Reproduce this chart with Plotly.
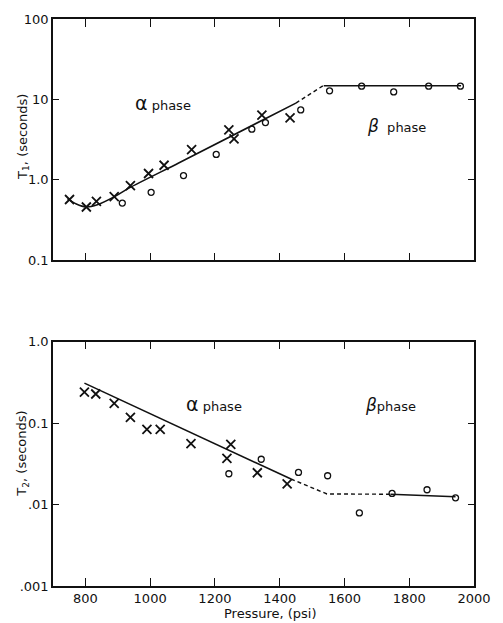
import plotly.graph_objects as go

# ---------------- data ----------------
# T1 (top) measured points
t1_x_p = [751, 803, 834, 889, 939, 995, 1043, 1128, 1243, 1259, 1345, 1432]
t1_x_v = [0.57, 0.46, 0.54, 0.62, 0.85, 1.20, 1.52, 2.37, 4.18, 3.24, 6.4, 5.9]
t1_o_p = [914, 1003, 1103, 1204, 1314, 1356, 1465, 1554, 1653, 1752, 1860, 1958]
t1_o_v = [0.515, 0.70, 1.13, 2.07, 4.27, 5.15, 7.4, 12.8, 14.6, 12.4, 14.6, 14.6]
# T1 fitted curve
t1_fit_p = [745, 772, 802, 837, 887, 937, 1088, 1450]
t1_fit_v = [0.58, 0.50, 0.46, 0.49, 0.61, 0.80, 1.62, 9.0]
t1_dash_p = [1450, 1536]
t1_dash_v = [9.0, 15.0]
t1_flat_p = [1536, 1960]
t1_flat_v = [14.8, 14.8]

# T2 (bottom) measured points
t2_x_p = [797, 832, 889, 939, 990, 1031, 1126, 1249, 1237, 1331, 1423]
t2_x_v = [0.241, 0.228, 0.175, 0.118, 0.084, 0.084, 0.056, 0.055, 0.037, 0.0246, 0.0179]
t2_o_p = [1243, 1343, 1458, 1548, 1646, 1747, 1855, 1943]
t2_o_v = [0.0239, 0.036, 0.0248, 0.0226, 0.0079, 0.0137, 0.0152, 0.0121]
# T2 fitted lines
t2_fit_p = [797, 1435]
t2_fit_v = [0.31, 0.0206]
t2_dash_p = [1435, 1546, 1742]
t2_dash_v = [0.0206, 0.0135, 0.0134]
t2_flat_p = [1742, 1943]
t2_flat_v = [0.0134, 0.0125]

x_ticks = [800, 1000, 1200, 1400, 1600, 1800, 2000]
x_tick_text = ["800", "1000", "1200", "1400", "1600", "1800", "2000"]
t1_ticks = [0.1, 1, 10, 100]
t1_tick_text = ["0.1", "1.0", "10", "100"]
t2_ticks = [0.001, 0.01, 0.1, 1]
t2_tick_text = [".001", ".01", "0.1", "1.0"]

FONT = "DejaVu Sans"
BLACK = "#111111"

fig = go.Figure()

def add_set(xa, ya, xp, xv, op, ov, fp, fv, dp, dv, sp, sv, fit_shape):
    fig.add_trace(go.Scatter(x=fp, y=fv, mode="lines", xaxis=xa, yaxis=ya,
                             line=dict(color=BLACK, width=1.6, shape=fit_shape, smoothing=0.6),
                             showlegend=False, hoverinfo="skip"))
    fig.add_trace(go.Scatter(x=dp, y=dv, mode="lines", xaxis=xa, yaxis=ya,
                             line=dict(color=BLACK, width=1.4, dash="4px,3px"),
                             showlegend=False, hoverinfo="skip"))
    fig.add_trace(go.Scatter(x=sp, y=sv, mode="lines", xaxis=xa, yaxis=ya,
                             line=dict(color=BLACK, width=1.6),
                             showlegend=False, hoverinfo="skip"))
    fig.add_trace(go.Scatter(x=xp, y=xv, mode="markers", xaxis=xa, yaxis=ya,
                             marker=dict(symbol="x-thin", size=9, color=BLACK,
                                         line=dict(color=BLACK, width=1.8)),
                             showlegend=False))
    fig.add_trace(go.Scatter(x=op, y=ov, mode="markers", xaxis=xa, yaxis=ya,
                             marker=dict(symbol="circle-open", size=6, color=BLACK,
                                         line=dict(color=BLACK, width=1.3)),
                             showlegend=False))

add_set("x", "y", t1_x_p, t1_x_v, t1_o_p, t1_o_v, t1_fit_p, t1_fit_v,
        t1_dash_p, t1_dash_v, t1_flat_p, t1_flat_v, "spline")
add_set("x2", "y2", t2_x_p, t2_x_v, t2_o_p, t2_o_v, t2_fit_p, t2_fit_v,
        t2_dash_p, t2_dash_v, t2_flat_p, t2_flat_v, "linear")

axis_common = dict(showline=True, linecolor=BLACK, linewidth=1.5, mirror="ticks",
                   ticks="inside", tickcolor=BLACK, tickwidth=1.3,
                   showgrid=False, zeroline=False,
                   tickfont=dict(family=FONT, size=13, color=BLACK))

W, H = 503, 623
ml, mr, mt, mb = 53, 19, 15, 37
ph = H - mt - mb
top_lo = 1 - (258 - mt) / ph
bot_hi = 1 - (340 - mt) / ph

fig.update_layout(
    width=W, height=H,
    margin=dict(l=ml, r=mr, t=mt, b=mb),
    paper_bgcolor="white", plot_bgcolor="white",
    showlegend=False,
    xaxis=dict(**axis_common, range=[700, 2000], domain=[0, 1], anchor="y",
               tickvals=x_ticks, ticktext=x_tick_text, showticklabels=False, ticklen=8),
    yaxis=dict(**axis_common, type="log", range=[-1, 2], domain=[top_lo, 1], anchor="x",
               tickvals=t1_ticks, ticktext=t1_tick_text, ticklen=6),
    xaxis2=dict(**axis_common, range=[700, 2000], domain=[0, 1], anchor="y2",
                tickvals=x_ticks, ticktext=x_tick_text, ticklen=8),
    yaxis2=dict(**axis_common, type="log", range=[-3, 0], domain=[0, bot_hi], anchor="x2",
                tickvals=t2_ticks, ticktext=t2_tick_text, ticklen=6),
)

def ann(text, x, y, size=13, angle=0, xanchor="center"):
    fig.add_annotation(text=text, x=x, y=y, xref="paper", yref="paper", showarrow=False,
                       textangle=angle, xanchor=xanchor, yanchor="middle",
                       font=dict(family=FONT, size=size, color=BLACK))

def px_x(px):
    return (px - ml) / (W - ml - mr)

def px_y(py):
    return 1 - (py - mt) / ph

alpha = "<span style='font-size:19px'>α</span> phase"
beta = "<span style='font-size:17px'><i>β</i></span>  phase"
beta2 = "<span style='font-size:17px'><i>β</i></span>phase"

ann(alpha, px_x(135), px_y(100), xanchor="left")
ann(beta, px_x(372), px_y(123), xanchor="left")
ann(alpha, px_x(187), px_y(403), xanchor="left")
ann(beta2, px_x(370), px_y(404), xanchor="left")

ann("T<sub>1</sub>, (seconds)", px_x(22), px_y(134), size=13, angle=-90)
ann("T<sub>2</sub>, (seconds)", px_x(22), px_y(453), size=13, angle=-90)
ann("Pressure, (psi)", px_x(276), px_y(614), size=13)

fig.write_html("out.html")
